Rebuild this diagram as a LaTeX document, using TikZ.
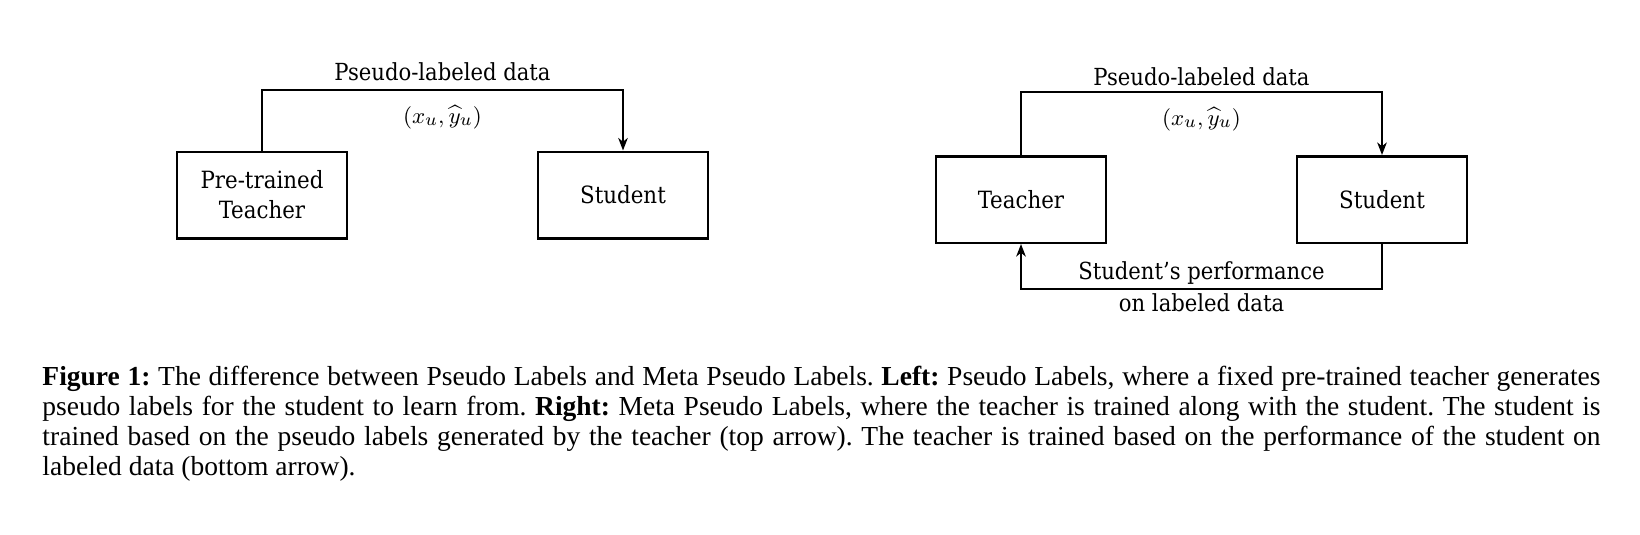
\documentclass[tikz,border=0pt]{standalone}
\usepackage{fontspec}
\setmainfont{Liberation Serif}
\newfontfamily\diag{DejaVu Serif Condensed}
\usetikzlibrary{arrows.meta}
\begin{document}
\begin{tikzpicture}[x=0.4pt,y=-0.4pt,
  box/.style={draw, line width=1pt, minimum width=68pt, minimum height=34.6pt, inner sep=0pt, align=center, font=\diag\fontsize{9.5}{12}\selectfont},
  conn/.style={line width=1pt},
  arr/.style={conn, -{Stealth[length=5pt,width=3.8pt,inset=1.5pt]}},
  lbl/.style={font=\diag\fontsize{9.4}{12}\selectfont, inner sep=0pt, align=center},
  mlbl/.style={inner sep=0pt, font=\fontsize{9.3}{11}\selectfont}]
\useasboundingbox (0,0) rectangle (1640,534);
% left diagram
\node[box] (lt) at (262,195) {Pre-trained\\Teacher};
\node[box] (ls) at (623,195) {Student};
\coordinate (ltop) at (0,90);
\draw[arr] (lt.north) -- (lt.north |- ltop) -- (ls.north |- ltop) -- (ls.north);
\node[lbl] (lpl) at (442.5,72) {Pseudo-labeled data};
\node[mlbl] (lmath) at (442.5,117) {$(x_u, \widehat{y}_u)$};
% right diagram
\node[box] (rt) at (1021,199.5) {Teacher};
\node[box] (rs) at (1382,199.5) {Student};
\coordinate (rtop) at (0,92);
\coordinate (rbot) at (0,289);
\draw[arr] (rt.north) -- (rt.north |- rtop) -- (rs.north |- rtop) -- (rs.north);
\draw[arr] (rs.south) -- (rs.south |- rbot) -- (rt.south |- rbot) -- (rt.south);
\node[lbl] (rpl) at (1201.5,77) {Pseudo-labeled data};
\node[mlbl] (rmath) at (1201.5,119) {$(x_u, \widehat{y}_u)$};
\node[lbl] (rperf) at (1201.5,273) {Student’s performance};
\node[lbl] (rlab) at (1201.5,303) {on labeled data};
% caption
\node[anchor=north west, inner sep=0pt, text width=623.2pt, align=justify,
  font=\fontsize{11}{12}\selectfont] (cap) at (42,366) {\frenchspacing\hyphenpenalty=10000\parfillskip=0pt plus 1fil
\textbf{Figure 1:} The difference between Pseudo Labels and Meta Pseudo Labels. \textbf{Left:} Pseudo Labels, where a fixed pre-trained teacher generates\linebreak
pseudo labels for the student to learn from. \textbf{Right:} Meta Pseudo Labels, where the teacher is trained along with the student. The student is\linebreak
trained based on the pseudo labels generated by the teacher (top arrow). The teacher is trained based on the performance of the student on\linebreak
labeled data (bottom arrow).};
\end{tikzpicture}
\end{document}
